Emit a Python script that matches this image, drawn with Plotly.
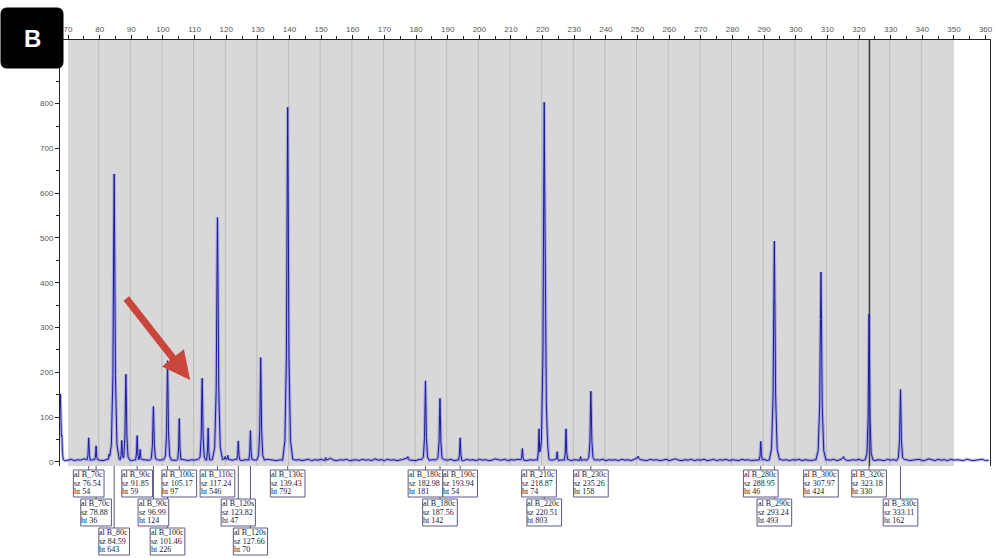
import numpy as np
import plotly.graph_objects as go

# ---------------- data ----------------
# peaks (size in bp, height in RFU)
peak_sizes = [67.6, 68.0, 76.54, 78.88, 83.0, 84.59, 87.0, 88.3, 91.85, 92.8,
              96.99, 101.46, 105.17, 112.4, 114.3, 117.24, 119.6, 120.5, 123.82, 127.66,
              130.9, 139.43, 151.4, 177.4, 182.98, 187.56, 193.94, 213.6, 218.87, 220.51,
              221.3, 224.6, 227.4, 232.0, 235.26, 250.2, 288.95, 293.24, 307.97, 315.1,
              323.18, 333.11]
peak_heights = [152, 80, 54, 36, 18, 643, 48, 196, 59, 28,
                124, 226, 97, 187, 76, 546, 12, 15, 47, 70,
                233, 792, 10, 12, 181, 142, 54, 30, 74, 803,
                100, 23, 74, 12, 158, 13, 46, 493, 424, 12,
                330, 162]

# baseline noise, one value per bp from 68 to 361
baseline_start = 68
baseline_values = [
    5, 3, 4, 6, 3, 5, 4, 7, 5, 4,
    5, 6, 4, 3, 5, 7, 5, 4, 6, 5,
    4, 6, 3, 5, 4, 6, 5, 3, 4, 6,
    5, 4, 6, 3, 5, 4, 3, 5, 6, 4,
    3, 5, 4, 6, 4, 5, 3, 4, 6, 5,
    4, 6, 7, 5, 4, 6, 5, 3, 5, 4,
    6, 4, 5, 3, 4, 6, 5, 4, 3, 5,
    4, 5, 3, 6, 4, 5, 3, 4, 6, 3,
    5, 4, 6, 3, 5, 8, 4, 3, 5, 4,
    6, 3, 4, 5, 3, 6, 4, 5, 3, 7,
    4, 5, 3, 6, 4, 5, 3, 4, 6, 9,
    4, 5, 3, 6, 5, 4, 3, 5, 4, 6,
    3, 5, 4, 6, 3, 5, 4, 3, 6, 4,
    5, 3, 6, 4, 5, 3, 4, 7, 5, 4,
    6, 3, 5, 4, 6, 5, 4, 3, 5, 4,
    5, 4, 6, 3, 5, 4, 6, 3, 5, 4,
    6, 3, 5, 4, 3, 5, 4, 6, 3, 5,
    4, 6, 3, 5, 4, 5, 3, 6, 4, 5,
    3, 6, 10, 5, 4, 3, 6, 4, 5, 3,
    4, 6, 3, 5, 7, 4, 3, 5, 4, 6,
    3, 5, 4, 6, 3, 4, 6, 3, 5, 4,
    6, 3, 5, 4, 3, 6, 4, 5, 3, 4,
    5, 4, 6, 3, 5, 4, 3, 6, 4, 5,
    3, 5, 4, 6, 3, 5, 4, 3, 5, 4,
    6, 3, 5, 4, 6, 3, 5, 9, 4, 3,
    5, 4, 6, 3, 5, 4, 6, 3, 5, 4,
    3, 6, 4, 5, 3, 4, 6, 5, 3, 4,
    5, 6, 3, 4, 7, 5, 3, 6, 4, 5,
    3, 6, 4, 5, 4, 3, 6, 5, 3, 4,
    5, 6, 3, 4]

# called peak labels
label_names = ["al B_70c", "al B_70c", "al B_80c", "al B_90c", "al B_90c", "al B_100c",
               "al B_100c", "al B_110c", "al B_120s", "al B_120s", "al B_130c",
               "al B_180c", "al B_180c", "al B_190c", "al B_210c", "al B_220c",
               "al B_230c", "al B_280c", "al B_290c", "al B_300c", "al B_320c", "al B_330c"]
label_sizes = [76.54, 78.88, 84.59, 91.85, 96.99, 101.46, 105.17, 117.24, 123.82, 127.66,
               139.43, 182.98, 187.56, 193.94, 218.87, 220.51, 235.26, 288.95, 293.24,
               307.97, 323.18, 333.11]
label_heights = [54, 36, 643, 59, 124, 226, 97, 546, 47, 70, 792, 181, 142, 54, 74, 803,
                 158, 46, 493, 424, 330, 162]
label_rows = [0, 1, 2, 0, 1, 2, 0, 0, 1, 2, 0, 0, 1, 0, 0, 1, 0, 0, 1, 0, 0, 1]

x_ticks = list(range(70, 361, 10))
x_minor = list(range(75, 360, 10))
y_ticks = list(range(0, 801, 100))
y_minor = list(range(50, 851, 100))

cursor_size = 323.3
arrow_target = (108.6, 183)

# ---------------- build trace ----------------
prof_off = np.array([-1, -0.55, -0.25, -0.1, 0, 0.1, 0.25, 0.55, 1.0])
prof_rel = np.array([0, 0.06, 0.3, 0.75, 1, 0.75, 0.3, 0.06, 0])


def halfwidth(h):
    if h >= 400:
        return 1.6
    if h >= 100:
        return 1.2
    return 0.9


bx = baseline_start + np.arange(len(baseline_values))
by = np.array(baseline_values, dtype=float)
windows = [(p - halfwidth(h), p + halfwidth(h)) for p, h in zip(peak_sizes, peak_heights)]
xs = [x for x in bx if not any(a < x < b for a, b in windows)]
for p, h in zip(peak_sizes, peak_heights):
    xs.extend(list(p + prof_off * halfwidth(h)))
xs = np.array(sorted(set(np.round(xs, 4))))
xs = xs[xs >= 67.5]
ys = np.interp(xs, bx, by)
for p, h in zip(peak_sizes, peak_heights):
    hw = halfwidth(h)
    ys = np.maximum(ys, np.interp(xs, p + prof_off * hw, prof_rel * h, left=0, right=0))

fig = go.Figure()
fig.add_trace(go.Scatter(x=xs, y=ys, mode="lines",
                         line=dict(color="rgba(110,110,230,0.45)", width=3.2),
                         hoverinfo="skip", showlegend=False))
fig.add_trace(go.Scatter(x=xs, y=ys, mode="lines",
                         line=dict(color="#1c1c98", width=1),
                         showlegend=False))

# ---------------- layout ----------------
PLOT_BOTTOM = 466  # pixel row of the plot bottom

shapes = []
annotations = []

# grey analysis-range background and bin lines
shapes.append(dict(type="rect", xref="x", yref="paper", x0=70, x1=350, y0=0, y1=1,
                   fillcolor="#d8d8d8", line=dict(width=0), layer="below"))
for t in x_ticks:
    if 70 < t < 350:
        shapes.append(dict(type="line", xref="x", yref="paper", x0=t - 0.3, x1=t - 0.3,
                           y0=0, y1=1, line=dict(color="#bcbcbc", width=1), layer="below"))
shapes.append(dict(type="line", xref="x", yref="paper", x0=cursor_size, x1=cursor_size,
                   y0=0, y1=1, line=dict(color="#3a3a3a", width=1.5), layer="below"))

# label boxes
cw = {'a': .444, 'l': .278, ' ': .25, 'B': .667, '_': .5, 'c': .444, 's': .389,
      'z': .444, 'h': .5, 't': .278, '.': .25}
FS = 8
row_tops = [470, 499, 528]
BOX_H = 27


def text_w(s):
    return sum(cw.get(ch, .5) for ch in s) * FS


# connectors first
for sz, row in zip(label_sizes, label_rows):
    top = row_tops[row]
    shapes.append(dict(type="line", xref="x", yref="paper", xsizemode="scaled",
                       ysizemode="pixel", yanchor=0, x0=sz, x1=sz,
                       y0=0, y1=-(top - PLOT_BOTTOM),
                       line=dict(color="#5a5a80", width=1), layer="above"))

for name, sz, ht, row in zip(label_names, label_sizes, label_heights, label_rows):
    lines = [name, "sz %.2f" % sz, "ht %d" % ht]
    w = max(text_w(s) for s in lines) + 2
    top = row_tops[row]
    shapes.append(dict(type="rect", xref="x", yref="paper", xsizemode="pixel",
                       ysizemode="pixel", xanchor=sz, yanchor=0,
                       x0=-w / 2, x1=w / 2, y0=-(top - PLOT_BOTTOM),
                       y1=-(top + BOX_H - PLOT_BOTTOM),
                       fillcolor="white", line=dict(color="#5a5a86", width=1),
                       layer="above"))
    for i, s in enumerate(lines):
        cy = top + 4.5 + 8.6 * i
        annotations.append(dict(x=sz, y=0, xref="x", yref="paper", text=s,
                                showarrow=False, xanchor="left", yanchor="middle",
                                xshift=-w / 2 - 0.5, yshift=-(cy - PLOT_BOTTOM),
                                borderpad=0,
                                font=dict(family="Liberation Serif, Times New Roman, serif",
                                          size=FS, color="#202030")))

# black "B" panel badge
r = 6
path = ("M {a},{t} L {b},{t} Q {c},{t} {c},{t2} L {c},{bb2} Q {c},{bb} {b},{bb} "
        "L {a},{bb} Q {d},{bb} {d},{bb2} L {d},{t2} Q {d},{t} {a},{t} Z").format(
    a=-59 + r, b=3 - r, c=3, d=-59, t=32, t2=32 - r, bb=-28, bb2=-28 + r)
shapes.append(dict(type="path", xref="paper", yref="paper", xsizemode="pixel",
                   ysizemode="pixel", xanchor=0, yanchor=1, path=path,
                   fillcolor="black", line=dict(color="black", width=1), layer="above"))
annotations.append(dict(x=0, y=1, xref="paper", yref="paper", text="<b>B</b>",
                        showarrow=False, xanchor="center", yanchor="middle",
                        xshift=-28, yshift=2,
                        font=dict(family="Liberation Sans, Arial, sans-serif", size=24,
                                  color="white")))

# red arrow
annotations.append(dict(x=arrow_target[0], y=arrow_target[1], xref="x", yref="y",
                        text="", showarrow=True, ax=-65, ay=-83,
                        arrowhead=2, arrowsize=0.8, arrowwidth=7,
                        arrowcolor="#c9463d", standoff=0))

axis_font = dict(family="Liberation Sans, Arial, sans-serif", size=8, color="#555555")

fig.update_layout(
    template="none",
    width=996, height=558,
    margin=dict(l=60, r=6, t=40, b=92, autoexpand=False),
    paper_bgcolor="white", plot_bgcolor="white",
    showlegend=False,
    xaxis=dict(side="top", range=[67.47, 361.4], tickvals=x_ticks,
               ticks="outside", ticklen=4, tickcolor="#222", tickwidth=1,
               showline=True, linecolor="#222", linewidth=1,
               showgrid=False, zeroline=False, tickfont=axis_font,
               minor=dict(tickvals=x_minor, ticks="outside", ticklen=3,
                          tickcolor="#222", showgrid=False)),
    yaxis=dict(range=[-9, 942], tickvals=y_ticks,
               ticks="outside", ticklen=4, tickcolor="#222", tickwidth=1,
               showline=True, linecolor="#222", linewidth=1, mirror=True,
               showgrid=False, zeroline=False, tickfont=axis_font,
               minor=dict(tickvals=y_minor, ticks="outside", ticklen=3,
                          tickcolor="#222", showgrid=False)),
    shapes=shapes,
    annotations=annotations,
)

fig.write_html("out.html",
               config={"displayModeBar": False},
               post_script="document.body.style.margin='0px';"
                           "document.body.style.overflow='hidden';")
